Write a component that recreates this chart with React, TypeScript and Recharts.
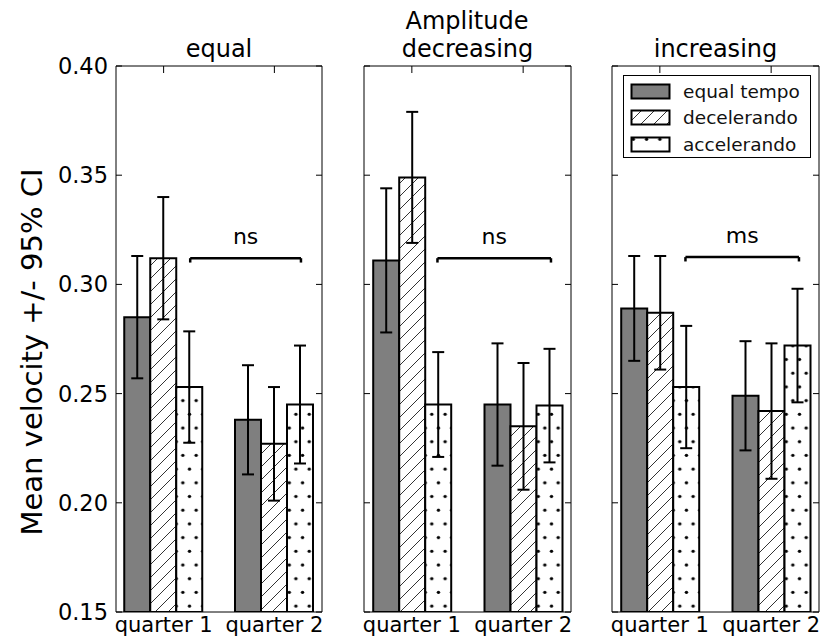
import { BarChart, Bar, XAxis, YAxis, ErrorBar, ReferenceLine, Legend, Label } from "recharts";

const FONT = "'DejaVu Sans', 'Bitstream Vera Sans', sans-serif";

const quarters = ["quarter 1", "quarter 2"];
const quarterPos = [0, 1];
const yTicks = [0.15, 0.2, 0.25, 0.3, 0.35, 0.4];
const panelTitles = ["equal", "decreasing", "increasing"];
const seriesNames = ["equal tempo", "decelerando", "accelerando"];

// one row per panel (equal, decreasing, increasing), values for [quarter 1, quarter 2]
const equalTempo = [[0.285, 0.238], [0.311, 0.245], [0.289, 0.249]];
const equalTempoCI = [[0.028, 0.025], [0.033, 0.028], [0.024, 0.025]];
const decelerando = [[0.312, 0.227], [0.349, 0.235], [0.287, 0.242]];
const decelerandoCI = [[0.028, 0.026], [0.030, 0.029], [0.026, 0.031]];
const accelerando = [[0.253, 0.245], [0.245, 0.2445], [0.253, 0.272]];
const accelerandoCI = [[0.0255, 0.027], [0.024, 0.026], [0.028, 0.026]];

// significance brackets
const sigLabels = ["ns", "ns", "ms"];
const bracketY = [0.312, 0.312, 0.3125];
const bracketFrom = [0.24, 0.23, 0.23];
const bracketTo = [1.24, 1.25, 1.25];
const bracketDrop = 0.002;

const xDomain = [-0.43, 1.43];

function renderLegend(props: any) {
  const items = [...(props.payload || [])].sort(
    (a: any, b: any) => seriesNames.indexOf(a.value) - seriesNames.indexOf(b.value)
  );
  return (
    <div
      style={{
        width: 188,
        height: 83,
        boxSizing: "border-box",
        border: "1px solid #000",
        background: "#fff",
        padding: "2px 0 0 6px",
        fontFamily: FONT,
        fontSize: 18.5,
        color: "#111",
      }}
    >
      {items.map((entry: any) => (
        <div key={entry.value} style={{ display: "flex", alignItems: "center", height: 26.5 }}>
          <svg width={42} height={17} style={{ flex: "none" }}>
            <rect x={1.5} y={1.5} width={38} height={14} fill={entry.color} stroke="#000" strokeWidth={2} />
          </svg>
          <span style={{ marginLeft: 11, whiteSpace: "nowrap" }}>{entry.value}</span>
        </div>
      ))}
    </div>
  );
}

function Panel({ i, left, width }: { i: number; left: number; width: number }) {
  const first = i === 0;
  const data = quarterPos.map((x, q) => ({
    x,
    et: equalTempo[i][q],
    etCI: equalTempoCI[i][q],
    de: decelerando[i][q],
    deCI: decelerandoCI[i][q],
    ac: accelerando[i][q],
    acCI: accelerandoCI[i][q],
  }));
  const y = bracketY[i];
  return (
    <div style={{ position: "absolute", left, top: 0 }}>
      <BarChart
        width={width}
        height={639}
        data={data}
        margin={{ top: 66, right: 2, bottom: 0, left: first ? 0 : 2 }}
        barGap={0}
        barSize={26}
      >
        <XAxis
          xAxisId="b"
          dataKey="x"
          type="number"
          domain={xDomain}
          allowDataOverflow
          ticks={quarterPos}
          interval={0}
          tickFormatter={(v: number) => quarters[v]}
          height={27}
          tickLine={false}
          tickSize={0}
          tickMargin={5}
          axisLine={{ stroke: "#000" }}
          tick={{ fill: "#000", fontSize: 21, fontFamily: FONT }}
        />
        <XAxis
          xAxisId="t"
          orientation="top"
          mirror
          dataKey="x"
          type="number"
          domain={xDomain}
          allowDataOverflow
          ticks={quarterPos}
          interval={0}
          tickFormatter={() => ""}
          tickSize={7}
          axisLine={{ stroke: "#000" }}
          tickLine={{ stroke: "#000" }}
        />
        {first ? (
          <YAxis
            yAxisId="main"
            domain={[0.15, 0.4]}
            allowDataOverflow
            ticks={yTicks}
            interval={0}
            tickFormatter={(v: number) => v.toFixed(2)}
            width={116}
            tickLine={false}
            tickSize={0}
            tickMargin={8}
            axisLine={{ stroke: "#000" }}
            tick={{ fill: "#000", fontSize: 22.5, fontFamily: FONT }}
          >
            <Label
              content={(p: any) => {
                const cx = (p.viewBox?.x ?? 0) + 42;
                const cy = 352;
                return (
                  <text
                    x={cx}
                    y={cy}
                    transform={`rotate(-90 ${cx} ${cy})`}
                    textAnchor="middle"
                    fontSize={29}
                    fontFamily={FONT}
                    fill="#000"
                  >
                    Mean velocity +/- 95% CI
                  </text>
                );
              }}
            />
          </YAxis>
        ) : (
          <YAxis
            yAxisId="main"
            mirror
            domain={[0.15, 0.4]}
            allowDataOverflow
            ticks={yTicks}
            interval={0}
            tickFormatter={() => ""}
            tickSize={6}
            axisLine={{ stroke: "#000" }}
            tickLine={{ stroke: "#000" }}
          />
        )}
        {first && (
          <YAxis
            yAxisId="inner"
            mirror
            domain={[0.15, 0.4]}
            allowDataOverflow
            ticks={yTicks}
            interval={0}
            tickFormatter={() => ""}
            tickSize={6}
            axisLine={false}
            tickLine={{ stroke: "#000" }}
          />
        )}
        <YAxis
          yAxisId="right"
          orientation="right"
          mirror
          domain={[0.15, 0.4]}
          allowDataOverflow
          ticks={yTicks}
          interval={0}
          tickFormatter={() => ""}
          tickSize={6}
          axisLine={{ stroke: "#000" }}
          tickLine={{ stroke: "#000" }}
        />
        <Bar xAxisId="b" yAxisId="main" dataKey="et" name={seriesNames[0]} fill="#7f7f7f" stroke="#000" strokeWidth={2} isAnimationActive={false}>
          <ErrorBar dataKey="etCI" width={6} stroke="#000" strokeWidth={2} direction="y" />
        </Bar>
        <Bar xAxisId="b" yAxisId="main" dataKey="de" name={seriesNames[1]} fill="url(#hatch)" stroke="#000" strokeWidth={2} isAnimationActive={false}>
          <ErrorBar dataKey="deCI" width={6} stroke="#000" strokeWidth={2} direction="y" />
        </Bar>
        <Bar xAxisId="b" yAxisId="main" dataKey="ac" name={seriesNames[2]} fill="url(#dots)" stroke="#000" strokeWidth={2} isAnimationActive={false}>
          <ErrorBar dataKey="acCI" width={6} stroke="#000" strokeWidth={2} direction="y" />
        </Bar>
        <ReferenceLine
          xAxisId="b"
          yAxisId="main"
          segment={[{ x: bracketFrom[i], y }, { x: bracketTo[i], y }]}
          stroke="#000"
          strokeWidth={2.5}
          label={{ value: sigLabels[i], position: "top", offset: 14, fontSize: 22, fill: "#000", fontFamily: FONT }}
        />
        <ReferenceLine
          xAxisId="b"
          yAxisId="main"
          segment={[{ x: bracketFrom[i], y }, { x: bracketFrom[i], y: y - bracketDrop }]}
          stroke="#000"
          strokeWidth={2.5}
        />
        <ReferenceLine
          xAxisId="b"
          yAxisId="main"
          segment={[{ x: bracketTo[i], y }, { x: bracketTo[i], y: y - bracketDrop }]}
          stroke="#000"
          strokeWidth={2.5}
        />
        {i === 2 && (
          <Legend
            layout="vertical"
            align="center"
            verticalAlign="middle"
            wrapperStyle={{ left: 13, top: 75, width: 188 }}
            content={renderLegend}
          />
        )}
      </BarChart>
    </div>
  );
}

export default function App() {
  return (
    <div style={{ position: "absolute", left: 0, top: 0, width: 821, height: 639, background: "#fff", fontFamily: FONT }}>
      <svg width={0} height={0} style={{ position: "absolute" }}>
        <defs>
          <pattern id="hatch" patternUnits="userSpaceOnUse" width={13} height={13}>
            <rect width={13} height={13} fill="#fff" />
            <path d="M-2,2 L2,-2 M0,13 L13,0 M11,15 L15,11" stroke="#333" strokeWidth={1} />
          </pattern>
          <pattern id="dots" patternUnits="userSpaceOnUse" width={13.3} height={27.4}>
            <rect width={13.3} height={27.4} fill="#fff" />
            <circle cx={3.3} cy={3.3} r={1.7} fill="#000" />
            <circle cx={9.95} cy={17} r={1.7} fill="#000" />
          </pattern>
        </defs>
      </svg>
      <Panel i={0} left={0} width={324} />
      <Panel i={1} left={362} width={211} />
      <Panel i={2} left={610} width={211} />
      <svg width={821} height={66} style={{ position: "absolute", left: 0, top: 0, pointerEvents: "none" }}>
        <text x={467} y={29} textAnchor="middle" fontSize={24} fontFamily={FONT} fill="#000">
          Amplitude
        </text>
        <text x={219} y={57} textAnchor="middle" fontSize={24} fontFamily={FONT} fill="#000">
          {panelTitles[0]}
        </text>
        <text x={467.5} y={57} textAnchor="middle" fontSize={24} fontFamily={FONT} fill="#000">
          {panelTitles[1]}
        </text>
        <text x={715.5} y={57} textAnchor="middle" fontSize={24} fontFamily={FONT} fill="#000">
          {panelTitles[2]}
        </text>
      </svg>
    </div>
  );
}
